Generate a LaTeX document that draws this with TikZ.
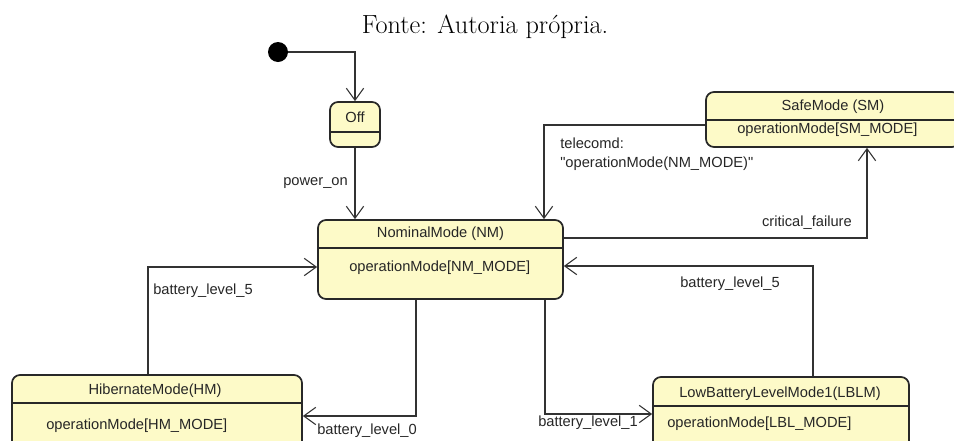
\documentclass[tikz,border=0pt]{standalone}
\usepackage{fontspec}
\newfontfamily\umlfont{Liberation Sans}
\usetikzlibrary{arrows.meta}
\definecolor{statefill}{RGB}{253,250,200}
\definecolor{stateline}{RGB}{40,40,40}
\definecolor{wireline}{RGB}{50,50,50}

\begin{document}
\begin{tikzpicture}[x=0.75pt, y=-0.75pt,
        state/.style={draw=stateline, fill=statefill, line width=1.3pt, rounded corners=6pt},
        txt/.style={inner sep=0pt, font=\umlfont\fontsize{11}{14.25}\selectfont, text=black!85},
        trans/.style={draw=wireline, line width=0.8pt, -{Straight Barb[length=9pt,width=13pt]}},
        divider/.style={draw=stateline, line width=0.8pt}]
        \useasboundingbox (0,0) rectangle (954,440);

        \node[inner sep=0pt, anchor=base, font=\fontsize{19.7}{24}\selectfont] (fonte) at (485,33) {Fonte: Autoria própria.};

        % states
        \node[circle, fill=black, minimum size=15pt, inner sep=0pt] (init) at (278,52) {};
        \node[state, minimum width=37.5pt, minimum height=33.75pt] (off) at (355,124.5) {};
        \node[state, minimum width=183.75pt, minimum height=59.25pt] (nm) at (440.5,259.5) {};
        \node[state, minimum width=190.5pt, minimum height=41.25pt] (sm) at (833,119.5) {};
        \node[state, minimum width=217.5pt, minimum height=60pt] (hm) at (157,415) {};
        \node[state, minimum width=192pt, minimum height=60pt] (lblm) at (781,417) {};
        \foreach \s/\y in {off/132, nm/248, sm/120, hm/403, lblm/406} {
            \draw[divider] (\s.west |- 0,\y) -- (\s.east |- 0,\y);
        }

        \node[txt] (offname) at (355,117) {Off};
        \node[txt] (nmname) at (440.5,234) {NominalMode (NM)};
        \node[txt, anchor=west] (nmop) at (349,268) {operationMode[NM\_MODE]};
        \node[txt] (smname) at (833,107) {SafeMode (SM)};
        \node[txt, anchor=west] (smop) at (737,130) {operationMode[SM\_MODE]};
        \node[txt] (hmname) at (155,391) {HibernateMode(HM)};
        \node[txt, anchor=west] (hmop) at (46,426) {operationMode[HM\_MODE]};
        \node[txt] (lblmname) at (780,394) {LowBatteryLevelMode1(LBLM)};
        \node[txt, anchor=west] (lblmop) at (667,424) {operationMode[LBL\_MODE]};

        % transitions
        \draw[trans] (init) -| (off);
        \draw[trans] (off) -- (nm.north -| off);
        \draw[trans] (sm.west |- 0,125) -| (nm.north -| 544,0);
        \draw[trans] (nm.east |- 0,238) -| (sm.south -| 867,0);
        \draw[trans] (lblm.north -| 813,0) |- (nm.east |- 0,266);
        \draw[trans] (nm.south -| 545,0) |- (lblm.west |- 0,414);
        \draw[trans] (nm.south -| 416,0) |- (hm.east |- 0,416);
        \draw[trans] (hm.north -| 148,0) |- (nm.west |- 0,267);

        \node[txt, anchor=east] (poweron) at (348,183) {power\_on};
        \node[txt, anchor=west, align=left] (telecomd) at (560,154.5) {telecomd:\\"operationMode(NM\_MODE)"};
        \node[txt, anchor=east] (critfail) at (852,223) {critical\_failure};
        \node[txt, anchor=west] (lvlfiveright) at (680,284) {battery\_level\_5};
        \node[txt, anchor=west] (lvlone) at (538,423) {battery\_level\_1};
        \node[txt, anchor=west] (lvlzero) at (317,431) {battery\_level\_0};
        \node[txt, anchor=west] (lvlfiveleft) at (153,291) {battery\_level\_5};
    \end{tikzpicture}
\end{document}
